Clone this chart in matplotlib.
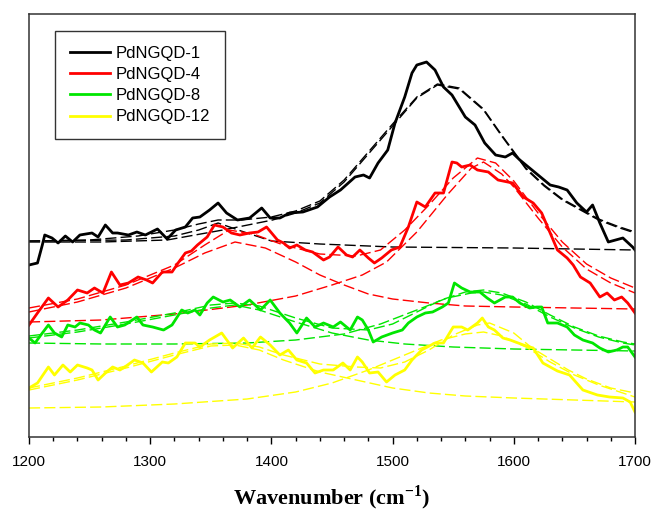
import matplotlib
matplotlib.use('Agg')
import matplotlib.pyplot as plt
from matplotlib.ticker import MultipleLocator

# ============ Data (arbitrary intensity units) ============
# PdNGQD-1
pd1_wn = [1200, 1207, 1211, 1213, 1219, 1224, 1230, 1236, 1242, 1252, 1257, 1263, 1269, 1273,
          1282, 1289, 1296, 1306, 1314, 1321, 1329, 1335, 1341, 1349, 1356, 1363, 1372, 1382,
          1392, 1399, 1407, 1415, 1426, 1438, 1448, 1457, 1469, 1476, 1481, 1488, 1496, 1502,
          1510, 1516, 1520, 1528, 1535, 1542, 1549, 1560, 1568, 1576, 1585, 1593, 1599, 1605,
          1613, 1622, 1630, 1637, 1644, 1652, 1660, 1665, 1671, 1678, 1684, 1690, 1698, 1700]
pd1_int = [172, 174, 192, 202, 199, 194, 201, 195, 202, 204, 200, 212, 204, 204,
           202, 205, 202, 208, 198, 207, 210, 219, 220, 227, 234, 224, 217, 219,
           229, 219, 219, 224, 225, 230, 240, 247, 260, 262, 259, 274, 287, 314,
           340, 364, 372, 375, 367, 350, 342, 320, 312, 294, 282, 280, 284, 277,
           269, 260, 252, 250, 247, 234, 225, 232, 214, 195, 197, 199, 190, 187]
pd1_fit_wn = [1200, 1250, 1290, 1320, 1340, 1356, 1375, 1400, 1420, 1440, 1460, 1480, 1500,
              1520, 1537, 1555, 1575, 1590, 1610, 1625, 1640, 1655, 1670, 1685, 1700]
pd1_fit = [196, 197, 201, 207, 213, 217, 217, 220, 226, 236, 257, 285, 313,
           340, 353, 349, 328, 302, 269, 252, 238, 228, 218, 211, 205]
pd1_d_wn = [1200, 1280, 1320, 1340, 1356, 1375, 1400, 1440, 1500, 1600, 1700]
pd1_d = [196, 197, 201, 207, 214, 206, 196, 193, 190, 189, 187]
pd1_g_wn = [1200, 1260, 1314, 1360, 1401, 1420, 1440, 1460, 1480, 1500, 1520, 1537, 1555,
            1575, 1590, 1610, 1625, 1640, 1655, 1670, 1685, 1700]
pd1_g = [195, 195, 197, 207, 217, 224, 234, 255, 283, 311, 339, 352, 348,
         327, 301, 268, 251, 237, 227, 217, 210, 204]

# PdNGQD-4
pd4_wn = [1200, 1207, 1216, 1224, 1232, 1240, 1248, 1254, 1261, 1268, 1275, 1282, 1290, 1297,
          1302, 1310, 1318, 1323, 1329, 1334, 1339, 1347, 1353, 1360, 1367, 1374, 1382, 1389,
          1396, 1405, 1410, 1415, 1421, 1428, 1434, 1443, 1448, 1455, 1462, 1467, 1473, 1480,
          1485, 1491, 1499, 1506, 1513, 1520, 1527, 1535, 1542, 1549, 1553, 1557, 1564, 1570,
          1579, 1587, 1599, 1608, 1616, 1623, 1630, 1636, 1644, 1649, 1655, 1663, 1671, 1677,
          1683, 1689, 1694, 1700]
pd4_int = [112, 124, 139, 130, 137, 147, 144, 149, 144, 165, 152, 154, 160, 157,
           154, 165, 165, 174, 184, 186, 192, 200, 212, 210, 204, 202, 204, 205,
           210, 197, 194, 189, 192, 187, 185, 177, 180, 190, 182, 180, 187, 179,
           174, 179, 187, 190, 210, 235, 230, 244, 244, 275, 274, 270, 272, 267,
           265, 257, 254, 240, 234, 224, 204, 187, 179, 172, 160, 154, 140, 144,
           137, 140, 134, 124]
pd4_fit_wn = [1200, 1240, 1280, 1320, 1345, 1365, 1385, 1410, 1440, 1470, 1490, 1510, 1530,
              1550, 1570, 1585, 1600, 1620, 1640, 1660, 1680, 1700]
pd4_fit = [129, 138, 152, 172, 192, 207, 203, 192, 183, 181, 187, 207, 232,
           259, 279, 274, 256, 224, 195, 173, 159, 149]
pd4_d_wn = [1200, 1240, 1280, 1320, 1345, 1370, 1395, 1420, 1440, 1460, 1480, 1500, 1530,
            1560, 1600, 1650, 1700]
pd4_d = [125, 135, 149, 169, 184, 195, 189, 175, 162, 152, 143, 138, 134,
         131, 130, 129, 128]
pd4_g_wn = [1200, 1260, 1320, 1380, 1420, 1450, 1475, 1495, 1520, 1545, 1565, 1575, 1590,
            1600, 1620, 1640, 1660, 1680, 1700]
pd4_g = [115, 117, 123, 132, 141, 152, 162, 175, 205, 242, 269, 275, 263,
         250, 219, 190, 168, 154, 144]

# PdNGQD-8
pd8_wn = [1200, 1205, 1211, 1216, 1221, 1227, 1232, 1238, 1242, 1249, 1254, 1259, 1267, 1273,
          1279, 1289, 1294, 1302, 1311, 1318, 1326, 1331, 1337, 1341, 1347, 1352, 1360, 1366,
          1374, 1382, 1391, 1399, 1407, 1415, 1421, 1429, 1436, 1443, 1451, 1457, 1465, 1471,
          1475, 1480, 1484, 1491, 1500, 1508, 1513, 1520, 1527, 1533, 1541, 1546, 1551, 1557,
          1564, 1572, 1578, 1584, 1593, 1599, 1605, 1613, 1619, 1623, 1628, 1636, 1644, 1650,
          1657, 1665, 1671, 1678, 1685, 1690, 1694, 1700]
pd8_int = [99, 94, 104, 112, 104, 100, 112, 110, 114, 112, 107, 104, 120, 110,
           112, 120, 112, 110, 107, 112, 127, 124, 127, 122, 134, 140, 135, 137,
           130, 137, 127, 137, 124, 114, 104, 119, 110, 114, 110, 115, 107, 120,
           117, 107, 95, 100, 104, 107, 114, 120, 124, 125, 130, 134, 154, 149,
           145, 145, 139, 134, 140, 140, 134, 129, 130, 130, 114, 114, 110, 102,
           97, 94, 89, 85, 87, 90, 90, 80]
pd8_fit_wn = [1200, 1240, 1280, 1320, 1350, 1370, 1390, 1420, 1450, 1480, 1500, 1520, 1540,
              1560, 1575, 1590, 1610, 1630, 1650, 1670, 1690, 1700]
pd8_fit = [101, 107, 115, 124, 132, 134, 131, 119, 109, 107, 113, 125, 137,
           145, 147, 144, 135, 122, 110, 101, 95, 93]
pd8_d_wn = [1200, 1240, 1280, 1320, 1350, 1370, 1390, 1420, 1450, 1480, 1510, 1550, 1600,
            1650, 1700]
pd8_d = [99, 105, 113, 122, 129, 132, 127, 115, 104, 97, 93, 90, 88, 87, 86]
pd8_g_wn = [1200, 1260, 1320, 1380, 1420, 1460, 1490, 1520, 1545, 1565, 1575, 1590, 1610,
            1630, 1650, 1670, 1690, 1700]
pd8_g = [94, 93, 93, 94, 97, 103, 113, 127, 139, 144, 145, 142, 133,
         120, 109, 100, 94, 92]

# PdNGQD-12
pd12_wn = [1200, 1207, 1216, 1221, 1228, 1234, 1240, 1248, 1252, 1257, 1264, 1269, 1275, 1279,
           1287, 1294, 1301, 1310, 1315, 1322, 1329, 1337, 1341, 1349, 1359, 1368, 1377, 1384,
           1391, 1399, 1407, 1414, 1421, 1429, 1436, 1443, 1451, 1459, 1465, 1471, 1475, 1481,
           1488, 1495, 1502, 1510, 1516, 1524, 1535, 1542, 1550, 1557, 1562, 1570, 1574, 1579,
           1584, 1591, 1597, 1608, 1616, 1624, 1636, 1646, 1657, 1669, 1679, 1690, 1696, 1700]
pd12_int = [49, 54, 70, 62, 72, 65, 72, 69, 67, 57, 65, 70, 67, 70,
            77, 74, 65, 75, 74, 80, 94, 94, 90, 97, 104, 89, 99, 89,
            100, 92, 82, 87, 77, 74, 64, 67, 67, 74, 67, 80, 75, 64,
            65, 55, 62, 67, 77, 87, 94, 94, 110, 110, 107, 114, 119, 110,
            107, 99, 97, 92, 89, 74, 66, 62, 47, 42, 40, 39, 35, 25]
pd12_fit_wn = [1200, 1240, 1280, 1320, 1350, 1370, 1390, 1410, 1440, 1470, 1490, 1510, 1530,
               1550, 1570, 1580, 1600, 1615, 1630, 1645, 1660, 1680, 1700]
pd12_fit = [49, 59, 71, 84, 93, 94, 90, 82, 73, 70, 69, 75, 87,
            102, 112, 114, 104, 89, 78, 67, 58, 49, 44]
pd12_d_wn = [1200, 1240, 1280, 1320, 1350, 1370, 1390, 1410, 1440, 1470, 1500, 1530, 1560,
             1600, 1650, 1700]
pd12_d = [47, 57, 69, 82, 91, 92, 87, 77, 65, 57, 49, 44, 41, 39, 37, 35]
pd12_g_wn = [1200, 1260, 1320, 1380, 1420, 1450, 1480, 1510, 1540, 1560, 1575, 1590, 1610,
             1630, 1650, 1670, 1690, 1700]
pd12_g = [29, 30, 33, 38, 45, 54, 67, 82, 97, 103, 105, 101, 90,
          75, 62, 52, 44, 40]

labels = ['PdNGQD-1', 'PdNGQD-4', 'PdNGQD-8', 'PdNGQD-12']
colors = ['#000000', '#ff0000', '#00e600', '#ffff00']

samples = [
    (pd1_wn, pd1_int, [(pd1_fit_wn, pd1_fit), (pd1_d_wn, pd1_d), (pd1_g_wn, pd1_g)]),
    (pd4_wn, pd4_int, [(pd4_fit_wn, pd4_fit), (pd4_d_wn, pd4_d), (pd4_g_wn, pd4_g)]),
    (pd8_wn, pd8_int, [(pd8_fit_wn, pd8_fit), (pd8_d_wn, pd8_d), (pd8_g_wn, pd8_g)]),
    (pd12_wn, pd12_int, [(pd12_fit_wn, pd12_fit), (pd12_d_wn, pd12_d), (pd12_g_wn, pd12_g)]),
]

# ============ Fonts ============
plt.rcParams['font.family'] = 'Liberation Sans'
plt.rcParams['mathtext.fontset'] = 'custom'
plt.rcParams['mathtext.rm'] = 'Liberation Serif'
plt.rcParams['mathtext.bf'] = 'Liberation Serif:bold'

# ============ Plot ============
fig = plt.figure(figsize=(6.55, 5.12), dpi=100)
ax = fig.add_axes([29 / 655, 1 - 437 / 512, 606 / 655, 423 / 512])

for (wn, inten, fits), lab, col in zip(samples, labels, colors):
    for fwn, fint in fits:
        ax.plot(fwn, fint, color=col, lw=1.0, dashes=(8, 3))
    ax.plot(wn, inten, color=col, lw=2.0, label=lab, solid_joinstyle='round')

ax.set_xlim(1200, 1700)
ax.set_ylim(0, 423)
ax.xaxis.set_major_locator(MultipleLocator(100))
ax.xaxis.set_minor_locator(MultipleLocator(20))
ax.tick_params(axis='x', which='major', direction='out', length=5, width=1,
               labelsize=11, pad=8, top=False)
ax.tick_params(axis='x', which='minor', direction='out', length=3, width=1, top=False)
ax.tick_params(axis='y', left=False, right=False, labelleft=False)
for sp in ax.spines.values():
    sp.set_linewidth(1.1)
    sp.set_color('#333333')

ax.set_xlabel(r'Wavenumber (cm$^{\mathbf{-1}}$)', family='Liberation Serif',
              fontweight='bold', fontsize=16, labelpad=10)

leg = ax.legend(loc='upper left', bbox_to_anchor=(0.043, 0.96), borderaxespad=0,
                fontsize=12, frameon=True, fancybox=False, edgecolor='black',
                handlelength=2.4, handletextpad=0.35, labelspacing=0.37,
                borderpad=0.9)
leg.get_frame().set_linewidth(1.0)

fig.savefig('out.png', dpi=100)
